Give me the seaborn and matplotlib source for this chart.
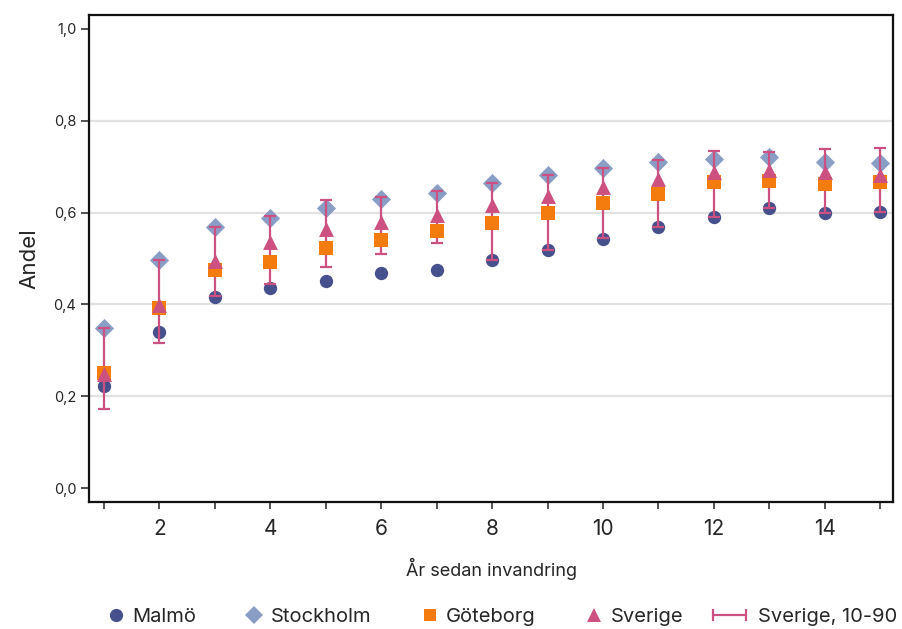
import numpy as np
import pandas as pd
import matplotlib
matplotlib.use("Agg")
import matplotlib.pyplot as plt
from matplotlib.lines import Line2D
from matplotlib.legend_handler import HandlerBase
from matplotlib.ticker import FuncFormatter, MultipleLocator
import seaborn as sns

years = list(range(1, 16))
malmo = [0.222, 0.341, 0.416, 0.436, 0.452, 0.468, 0.476, 0.497, 0.519, 0.542, 0.569, 0.590, 0.609, 0.598, 0.602]
stockholm = [0.348, 0.497, 0.568, 0.588, 0.611, 0.630, 0.643, 0.664, 0.681, 0.698, 0.711, 0.717, 0.722, 0.711, 0.707]
goteborg = [0.251, 0.392, 0.475, 0.492, 0.522, 0.540, 0.559, 0.577, 0.598, 0.620, 0.640, 0.666, 0.669, 0.663, 0.667]
sverige = [0.248, 0.399, 0.495, 0.537, 0.564, 0.580, 0.595, 0.617, 0.635, 0.655, 0.673, 0.688, 0.693, 0.688, 0.682]
sverige_p10 = [0.172, 0.317, 0.418, 0.444, 0.481, 0.509, 0.534, 0.497, 0.519, 0.544, 0.569, 0.590, 0.609, 0.598, 0.602]
sverige_p90 = [0.348, 0.497, 0.568, 0.593, 0.627, 0.633, 0.646, 0.664, 0.681, 0.698, 0.715, 0.733, 0.731, 0.738, 0.741]

series_names = ["Malmö", "Stockholm", "Göteborg", "Sverige"]
err_label = "Sverige, 10-90"
y_ticks = [0.0, 0.2, 0.4, 0.6, 0.8, 1.0]

colors = {"Malmö": "#46508c", "Stockholm": "#8a9dc4", "Göteborg": "#f47c0f", "Sverige": "#cc5080"}
markers = {"Malmö": "o", "Stockholm": "D", "Göteborg": "s", "Sverige": "^"}
sizes = {"Malmö": 92, "Stockholm": 95, "Göteborg": 90, "Sverige": 115}

sns.set_theme(style="white")
plt.rcParams["font.family"] = ["Inter", "DejaVu Sans"]

df = pd.DataFrame({
    "year": years * 4,
    "value": malmo + stockholm + goteborg + sverige,
    "series": sum([[n] * len(years) for n in series_names], []),
})

fig = plt.figure(figsize=(9.02, 6.29), dpi=100)
ax = fig.add_axes([89 / 902, 1 - 502 / 629, (893 - 89) / 902, (502 - 15) / 629])

for yv in [0.2, 0.4, 0.6, 0.8]:
    ax.axhline(yv, color="#e2e2e2", lw=1.6, zorder=0)

zorders = {"Malmö": 2, "Stockholm": 3, "Göteborg": 5, "Sverige": 6}
for name in series_names:
    sub = df[df["series"] == name]
    sns.scatterplot(data=sub, x="year", y="value", color=colors[name], marker=markers[name],
                    s=sizes[name], linewidth=0, ax=ax, zorder=zorders[name], legend=False)

sv = np.array(sverige)
lo = sv - np.array(sverige_p10)
hi = np.array(sverige_p90) - sv
ax.errorbar(years, sverige, yerr=[lo, hi], fmt="none", ecolor=colors["Sverige"],
            elinewidth=1.6, capsize=4.5, capthick=1.6, zorder=4)

ax.set_xlim(0.73, 15.23)
ax.set_ylim(-0.03, 1.03)
ax.set_yticks(y_ticks)
ax.yaxis.set_major_formatter(FuncFormatter(lambda v, p: f"{v:.1f}".replace(".", ",")))
ax.xaxis.set_major_locator(MultipleLocator(2))
ax.xaxis.set_minor_locator(MultipleLocator(1))
ax.tick_params(axis="x", which="both", direction="out", length=5, width=1.2, color="#333333",
               labelsize=15, pad=7, bottom=True)
ax.tick_params(axis="y", which="major", direction="out", length=6, width=1.2, color="#333333",
               labelsize=10.5, left=True, pad=3)
for sp in ax.spines.values():
    sp.set_color("#111111")
    sp.set_linewidth(1.6)

ax.set_xlabel("År sedan invandring", fontsize=13, labelpad=14)
ax.set_ylabel("Andel", fontsize=16, labelpad=10)


class RightMarkerHandler(HandlerBase):
    def create_artists(self, legend, orig_handle, xdescent, ydescent, width, height, fontsize, trans):
        x = width - xdescent - 4
        y = height / 2 - ydescent
        ln = Line2D([x], [y], linestyle="none", marker=orig_handle.get_marker(),
                    color=orig_handle.get_color(), markersize=orig_handle.get_markersize(),
                    markeredgewidth=0)
        ln.set_transform(trans)
        return [ln]


class ErrbarHandler(HandlerBase):
    def create_artists(self, legend, orig_handle, xdescent, ydescent, width, height, fontsize, trans):
        y = height / 2 - ydescent
        x0, x1 = -xdescent, width - xdescent
        ln = Line2D([x0, x1], [y, y], color=orig_handle.get_color(), lw=1.6,
                    marker="|", markersize=9, markeredgewidth=1.6)
        ln.set_transform(trans)
        return [ln]


handles = [Line2D([], [], linestyle="none", marker=markers[n], color=colors[n],
                  markersize={"Malmö": 9.5, "Stockholm": 9, "Göteborg": 9, "Sverige": 10}[n])
           for n in series_names]
err_handle = Line2D([], [], color=colors["Sverige"])
hmap = {h: RightMarkerHandler() for h in handles}
hmap[err_handle] = ErrbarHandler()
handles.append(err_handle)
labels = series_names + [err_label]
leg = fig.legend(handles, labels, loc="center", bbox_to_anchor=(0.546, 1 - 617 / 629),
                 ncol=5, frameon=False, fontsize=14.5, handlelength=1.65, handletextpad=0.55,
                 columnspacing=1.5, handler_map=hmap, borderpad=0, borderaxespad=0)

fig.savefig("out.png", dpi=100)
